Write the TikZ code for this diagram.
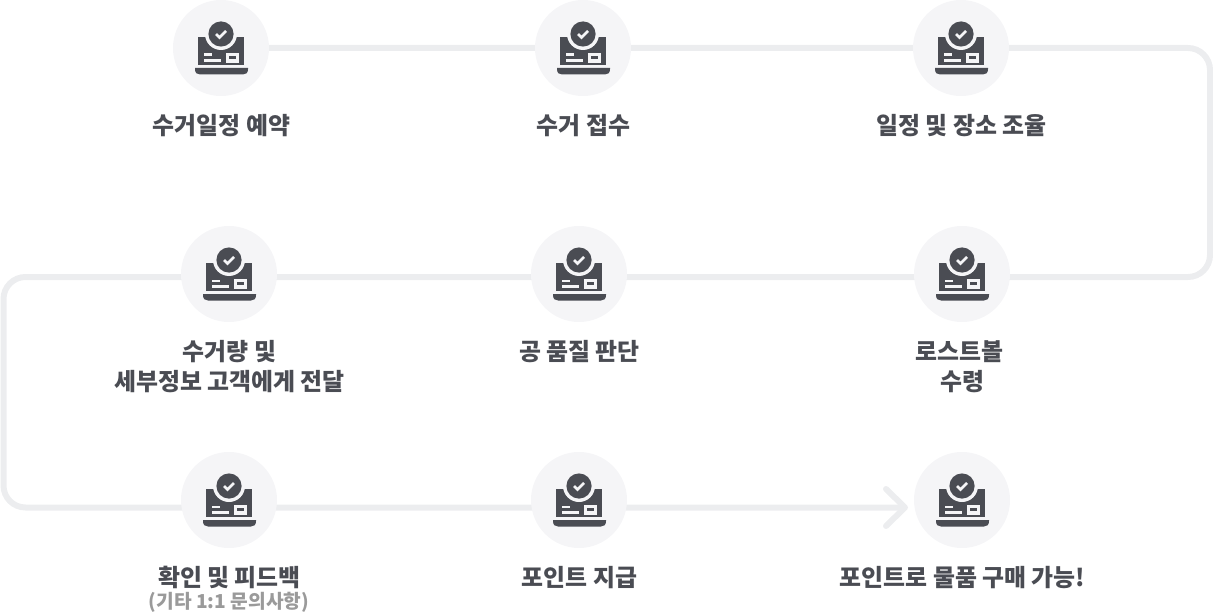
\documentclass[tikz,border=0pt]{standalone}
\usepackage{fontspec}
\setmainfont{Noto Sans CJK KR}
\definecolor{ink}{HTML}{4A4C53}
\definecolor{disc}{HTML}{F5F5F7}
\definecolor{rail}{HTML}{ECEDEF}
\definecolor{note}{HTML}{9A9A9A}
\tikzset{
  x=1pt,y=-1pt,
  stepdisc/.style={circle,fill=disc,minimum size=96pt,inner sep=0pt,outer sep=0pt},
  railline/.style={draw=rail,line width=6pt,rounded corners=22pt},
  lab/.style={font=\fontsize{23.9}{30}\selectfont\bfseries,text=ink,align=center,inner sep=0pt},
  sublab/.style={font=\fontsize{19.2}{24}\selectfont\bfseries,text=note,inner sep=0pt},
  pics/chk/.style={code={
    \fill[ink] (-23.5,-11) rectangle (22.5,17);
    \fill[ink] (-26,20) -- (27,20) -- (27,21) .. controls (27,25) and (25,26.5) .. (22,26.5) -- (-21,26.5) .. controls (-24,26.5) and (-26,25) .. (-26,21) -- cycle;
    \fill[disc] (0,-14) circle (16);
    \fill[ink] (0,-14) circle (12.6);
    \draw[disc,line width=2.8pt] (-5,-14) -- (-1.5,-10.5) -- (5,-17);
    \fill[disc] (-16.7,5.5) rectangle (-8.7,8);
    \fill[disc] (-16.7,11.3) rectangle (0,14);
    \fill[disc] (5,4.7) rectangle (17.7,14.7);
    \fill[ink] (8.3,8.3) rectangle (14.7,11.3);
  }}
}
\begin{document}
\begin{tikzpicture}
\useasboundingbox (0,0) rectangle (1213,615);
\coordinate (ne) at (1210,48);
\coordinate (se) at (1210,277);
\coordinate (nw) at (3.5,277);
\coordinate (sw) at (3.5,507.5);
\coordinate (tip) at (905,507.5);
\coordinate (r1a) at (221,48);
\coordinate (r1c) at (961,48);
\draw[railline] (r1a) -- (r1c) -- (ne) -- (se) -- (nw) -- (sw) -- (tip);
\draw[rail,line width=6pt,line cap=round,line join=round] (886,489) -- (tip) -- (886,526);
\node[stepdisc] (s1) at (221,48) {};
\node[stepdisc] (s2) at (583,48) {};
\node[stepdisc] (s3) at (961,48) {};
\node[stepdisc] (s4) at (962,274) {};
\node[stepdisc] (s5) at (579,274) {};
\node[stepdisc] (s6) at (229,274) {};
\node[stepdisc] (s7) at (229,500) {};
\node[stepdisc] (s8) at (579,500) {};
\node[stepdisc] (s9) at (962,500) {};
\foreach \n in {s1,s2,s3,s4,s5,s6,s7,s8,s9} \path (\n) pic {chk};
\node[lab] (t1) at (221.5,125.5) {수거일정 예약};
\node[lab] (t2) at (583.5,125.5) {수거 접수};
\node[lab] (t3) at (961.5,125.5) {일정 및 장소 조율};
\node[lab] (t4) at (959.5,366.5) {로스트볼\\\hspace*{5pt}수령};
\node[lab] (t5) at (579.5,351.5) {공 품질 판단};
\node[lab] (t6) at (229.5,366.5) {수거량 및\\세부정보 고객에게 전달};
\node[lab] (t7) at (229.5,577.5) {확인 및 피드백};
\node[sublab] (t7b) at (229,602.5) {(기타 1:1 문의사항)};
\node[lab] (t8) at (579.5,577.5) {포인트 지급};
\node[lab] (t9) at (962.5,577.5) {포인트로 물품 구매 가능!};
\end{tikzpicture}
\end{document}
